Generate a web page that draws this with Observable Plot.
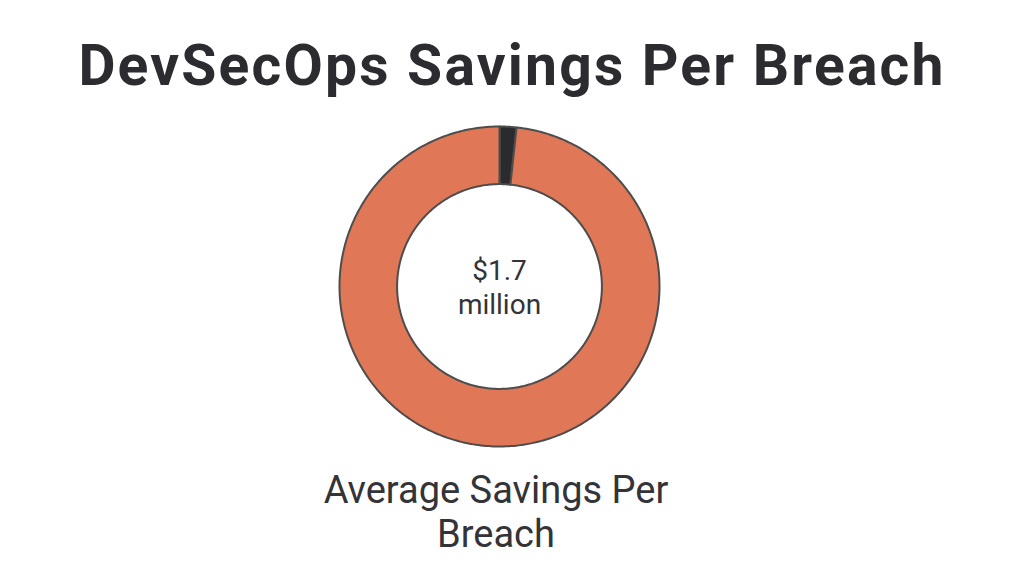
<!DOCTYPE html>
<html>
<head>
<meta charset="utf-8">
<script src="https://cdn.jsdelivr.net/npm/d3@7"></script>
<script src="https://cdn.jsdelivr.net/npm/@observablehq/plot@0.6"></script>
<style>
  html, body { margin: 0; padding: 0; background: #ffffff; }
  body { width: 1024px; height: 576px; position: relative; overflow: hidden; font-family: Roboto, "Noto Sans", sans-serif; }
  #title { position: absolute; left: 0; width: 1024px; top: 37px; text-align: center; font-size: 57px; line-height: 57px; font-weight: 700; color: #2b2b30; letter-spacing: 2.2px; }
  #chart { position: absolute; left: -13px; top: 124px; width: 1024px; }
  #caption { position: absolute; left: -16px; width: 1024px; top: 468px; text-align: center; font-size: 38px; line-height: 44px; color: #333338; }
  #caption span { display: inline-block; width: 420px; }
</style>
</head>
<body>
<div id="title">DevSecOps Savings Per Breach</div>
<div id="chart"></div>
<div id="caption"><span>Average Savings Per Breach</span></div>
<script>
// Data
const labels = ["Average Savings Per Breach", "Remainder"];
const values = [1.7, 98.3];
const colors = ["#2b2b2e", "#e07757"];
const centerLabel = "$1.7\nmillion";

const innerRatio = 0.64;
const pie = d3.pie().sort(null).value(d => d.value);
const arcs = pie(labels.map((l, i) => ({label: l, value: values[i]})));

function ringPolygon(a0, a1, r0, r1) {
  const n = Math.max(4, Math.ceil((a1 - a0) / (Math.PI * 2) * 400));
  const ring = [];
  for (let i = 0; i <= n; i++) {
    const a = a0 + (a1 - a0) * i / n;
    ring.push([r1 * Math.sin(a), -r1 * Math.cos(a)]);
  }
  for (let i = n; i >= 0; i--) {
    const a = a0 + (a1 - a0) * i / n;
    ring.push([r0 * Math.sin(a), -r0 * Math.cos(a)]);
  }
  ring.push(ring[0]);
  return ring;
}

const features = arcs.map(a => ({
  type: "Feature",
  properties: {label: a.data.label, value: a.data.value},
  geometry: {type: "Polygon", coordinates: [ringPolygon(a.startAngle, a.endAngle, innerRatio, 1)]}
}));
const domain = {type: "FeatureCollection", features: features};

const plot = Plot.plot({
  width: 1024,
  height: 324,
  margin: 0,
  inset: 2,
  projection: {type: "identity", domain: domain},
  color: {domain: labels, range: colors},
  marks: [
    Plot.geo(features, {fill: d => d.properties.label, stroke: "#4d4d4d", strokeWidth: 2}),
    Plot.text([centerLabel], {frameAnchor: "middle", text: d => d, fontSize: 28, lineHeight: 1.2, fill: "#333338", fontFamily: "Roboto"})
  ]
});
document.getElementById("chart").appendChild(plot);
</script>
</body>
</html>
